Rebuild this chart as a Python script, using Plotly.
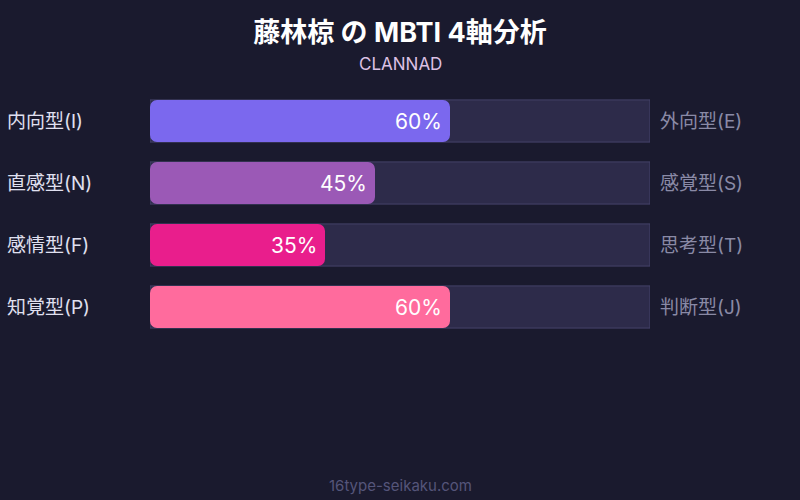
import plotly.graph_objects as go

left_labels = ["内向型(I)", "直感型(N)", "感情型(F)", "知覚型(P)"]
right_labels = ["外向型(E)", "感覚型(S)", "思考型(T)", "判断型(J)"]
values = [60, 45, 35, 60]
colors = ["#7b68ee", "#9b59b6", "#e91e8c", "#ff6b9d"]
track_max = [100, 100, 100, 100]

FONT = "Inter, Noto Sans CJK JP, sans-serif"
cats = left_labels

fig = go.Figure()
fig.add_trace(go.Bar(
    y=cats, x=track_max, orientation="h",
    marker=dict(color="#2d2b4a", line=dict(color="#45436a", width=1), cornerradius=0),
    width=0.68, hoverinfo="skip", showlegend=False, xaxis="x", yaxis="y",
))
fig.add_trace(go.Bar(
    y=cats, x=values, base=0, orientation="h",
    marker=dict(color=colors, line=dict(width=0), cornerradius=7),
    width=0.68, hoverinfo="skip", showlegend=False, xaxis="x2", yaxis="y2",
))

annotations = []
for lab, v in zip(left_labels, values):
    annotations.append(dict(
        x=v, xref="x2", y=lab, yref="y2", text=f"{v}%", showarrow=False,
        xanchor="right", yanchor="middle", xshift=-6,
        font=dict(color="white", size=21, family=FONT),
    ))
for lab in left_labels:
    annotations.append(dict(
        x=-0.29, xref="paper", y=lab, yref="y", text=lab, showarrow=False,
        xanchor="left", yanchor="middle",
        font=dict(color="#e0e0f0", size=19, family=FONT),
    ))
for lab, rlab in zip(left_labels, right_labels):
    annotations.append(dict(
        x=1.016, xref="paper", y=lab, yref="y", text=rlab, showarrow=False,
        xanchor="left", yanchor="middle",
        font=dict(color="#8a8aa6", size=19, family=FONT),
    ))
annotations.append(dict(
    x=0.5, xref="paper", y=1, yref="paper", yshift=90 - 64, yanchor="middle",
    text="CLANNAD", showarrow=False,
    font=dict(color="#dcc0e4", size=17, family=FONT),
))
annotations.append(dict(
    x=0.5, xref="paper", y=0, yref="paper", yshift=-(485 - 338), yanchor="middle",
    text="16type-seikaku.com", showarrow=False,
    font=dict(color="#55557a", size=15, family=FONT),
))

axis_common = dict(range=[0, 100], visible=False, fixedrange=True)
yaxis_common = dict(autorange="reversed", visible=False, fixedrange=True)

fig.update_layout(
    width=800, height=500,
    paper_bgcolor="#1a1a2e", plot_bgcolor="rgba(0,0,0,0)",
    margin=dict(l=150, r=150, t=90, b=162),
    barmode="overlay",
    title=dict(
        text="<b>藤林椋 の MBTI 4軸分析</b>", x=0.5, xanchor="center",
        y=1 - 33 / 500, yanchor="middle",
        font=dict(color="white", size=27, family=FONT),
    ),
    xaxis=axis_common,
    yaxis=yaxis_common,
    xaxis2=dict(**axis_common, overlaying="x"),
    yaxis2=dict(**yaxis_common, overlaying="y"),
    annotations=annotations,
)

fig.write_html(
    "out.html",
    config={"displayModeBar": False},
    post_script="document.body.style.margin='0';document.body.style.background='#1a1a2e';",
)
